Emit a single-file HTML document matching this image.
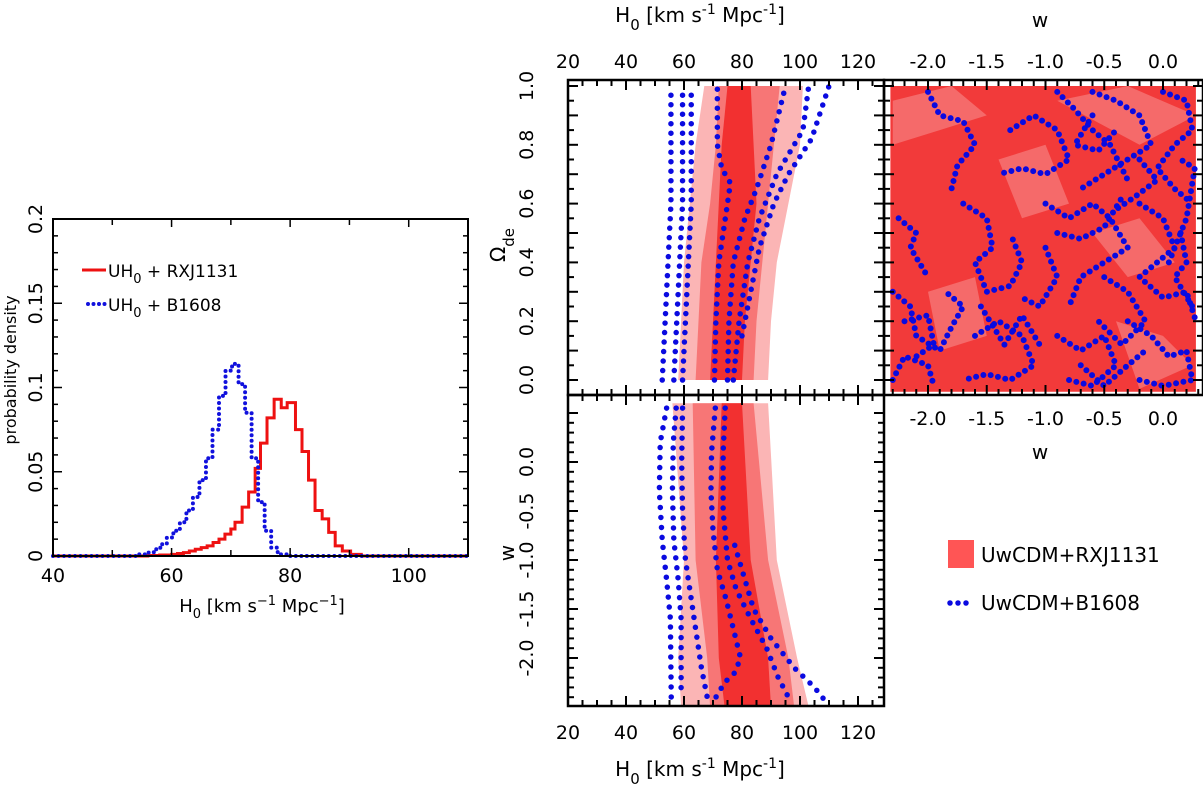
<!DOCTYPE html>
<html><head><meta charset="utf-8"><style>
html,body{margin:0;padding:0;background:#fff;}
svg{display:block;font-family:"DejaVu Sans","Liberation Sans",sans-serif;}
</style></head><body>
<svg id="fig" width="1203" height="792" viewBox="0 0 1203 792"></svg>
<script>
// ---- Histogram data ----
const redEdges=[56,58,60,61,62,63,64,65,66,67,68,69,70,70.7,71.9,73,74.1,75,76.1,77.3,78.5,79.5,80.9,82,83.1,84.2,85.4,86.5,87.6,88.8,90.2,92];
const redVals=[0.0003,0.0006,0.001,0.0015,0.002,0.003,0.004,0.005,0.006,0.008,0.01,0.013,0.016,0.02,0.029,0.038,0.052,0.067,0.082,0.093,0.088,0.091,0.075,0.062,0.045,0.027,0.022,0.014,0.006,0.003,0.001];
const blueEdges=[54.4,55.9,57,58.1,59.2,60.3,61.4,62.5,63.6,64.7,65.8,66.9,68,69.1,70.2,71.3,72.4,73.5,74.6,75.7,76.8,77.9,79.4];
const blueVals=[0.001,0.002,0.004,0.007,0.011,0.015,0.02,0.027,0.035,0.045,0.058,0.075,0.095,0.11,0.114,0.102,0.085,0.058,0.032,0.015,0.005,0.001];
const histXTicks=[40,60,80,100];
const histYTicks=[0,0.05,0.1,0.15,0.2];
const histYLabels=["0","0.05","0.1","0.15","0.2"];
// ---- H0 vs Omega_de bands ----
const omLevels=[0,0.2,0.4,0.6,0.8,1.0];
const omLightL=[58,59,60,62,64,67], omLightR=[89,90,92,96,100,101];
const omMidL=[64,65,66,69,71,72], omMidR=[84,85,87,89,91,93];
const omDarkL=[69,70,71,72,73,75], omDarkR=[80,81,83,85,84,83];
const omContours=[
 [[52.5,0],[53.5,0.2],[54.5,0.4],[55.5,0.6],[55.5,0.8],[55.5,1.0]],
 [[56.5,0],[57.5,0.2],[58.5,0.4],[59.5,0.6],[59.5,0.8],[59.5,1.0]],
 [[59.5,0],[60.5,0.2],[61.5,0.4],[62.5,0.6],[62.5,0.8],[62.5,1.0]],
 [[70.5,0],[71,0.2],[72,0.4],[75,0.6],[76,0.67],[73,0.72],[71.5,0.8],[71.5,1.0]],
 [[75,0],[75.5,0.2],[77,0.4],[81,0.55],[85,0.65],[90,0.8],[95,1.0]],
 [[77,0],[79,0.2],[82,0.4],[86,0.55],[92,0.7],[101,0.85],[103,1.0]],
 [[80,0.15],[83,0.3],[86,0.45],[91,0.6],[96,0.7],[104,0.82],[110,1.0]]
];
// ---- H0 vs w bands ----
const wLevels=[0.6,-1,-2,-2.5];
const wLightL=[56,60,58,59], wLightR=[89,92,99,103];
const wMidL=[63,64,68,69], wMidR=[84,89,96,98];
const wDarkL=[73,71,72,74], wDarkR=[80,83,89,90];
const wContours=[
 [[54,0.55],[51.8,0.2],[51.5,-0.3],[52.5,-0.8],[54,-1.2],[55.3,-1.6],[55.6,-2.4]],
 [[57.3,0.55],[56.3,0.2],[56,-0.3],[56.5,-0.8],[58,-1.2],[59,-1.6],[59,-2.4]],
 [[59.5,0.55],[59.2,0],[59.5,-0.5],[60.5,-1.0],[62,-1.3],[64,-1.7],[66,-2.1],[68,-2.4]],
 [[70.8,0.55],[69.5,0.1],[69.3,-0.3],[70,-0.7],[71.5,-1.1],[74.5,-1.4],[77,-1.7],[79.5,-2.0],[77.5,-2.15],[74,-2.25],[71,-2.4]],
 [[74.2,0.55],[73.5,0.1],[73.5,-0.5],[75,-1.0],[78,-1.3],[83,-1.6],[88.5,-1.9],[92.5,-2.2],[96,-2.4]],
 [[77.5,-0.85],[81,-1.2],[84,-1.5],[90,-1.8],[98,-2.1],[105,-2.3],[109,-2.45]]
];
// ---- w vs Omega_de scatter contours ----
const woSquiggles=[
 [[-2.0,0.98],[-1.9,0.9],[-1.7,0.88],[-1.6,0.8],[-1.75,0.73],[-1.8,0.65]],
 [[-1.3,0.85],[-1.1,0.9],[-0.9,0.85],[-0.8,0.75],[-1.0,0.7],[-1.2,0.72],[-1.4,0.7]],
 [[-0.6,0.98],[-0.4,0.95],[-0.2,0.9],[-0.1,0.8],[-0.3,0.75],[-0.5,0.7],[-0.7,0.65]],
 [[0.0,0.98],[0.2,0.95],[0.25,0.85],[0.1,0.8],[-0.05,0.72],[0.1,0.65],[0.25,0.6]],
 [[-2.25,0.55],[-2.1,0.5],[-2.15,0.45],[-2.0,0.35]],
 [[-1.7,0.6],[-1.5,0.55],[-1.45,0.45],[-1.6,0.4],[-1.5,0.3],[-1.3,0.32],[-1.2,0.4],[-1.3,0.5]],
 [[-1.0,0.6],[-0.8,0.55],[-0.6,0.6],[-0.45,0.55],[-0.3,0.45],[-0.5,0.4],[-0.7,0.35],[-0.8,0.25]],
 [[-0.2,0.6],[0.0,0.55],[0.1,0.45],[-0.05,0.4],[-0.2,0.35],[0.0,0.28],[0.2,0.3],[0.28,0.2]],
 [[-2.3,0.3],[-2.15,0.25],[-2.1,0.15],[-1.9,0.1],[-1.8,0.18],[-1.7,0.25],[-1.85,0.3]],
 [[-1.6,0.15],[-1.4,0.2],[-1.2,0.15],[-1.1,0.05],[-1.3,0.0],[-1.5,0.02],[-1.7,0.0]],
 [[-0.9,0.15],[-0.7,0.1],[-0.5,0.15],[-0.4,0.05],[-0.6,-0.02],[-0.8,0.0]],
 [[-0.3,0.2],[-0.1,0.15],[0.05,0.08],[0.2,0.1],[0.25,0.0],[0.0,-0.02],[-0.2,0.0]],
 [[-2.3,0.0],[-2.2,0.08],[-2.0,0.05],[-1.95,-0.02]],
 [[-1.0,0.45],[-0.9,0.35],[-1.05,0.25],[-1.2,0.28]],
 [[-0.6,0.9],[-0.75,0.8],[-0.55,0.78],[-0.4,0.85]],
 [[0.15,0.5],[0.2,0.4],[0.1,0.35],[0.25,0.25]],
 [[-0.5,0.35],[-0.3,0.3],[-0.15,0.2],[-0.35,0.12],[-0.55,0.2]],
 [[-0.9,0.5],[-0.7,0.48],[-0.5,0.52],[-0.35,0.62]],
 [[-0.2,0.75],[-0.05,0.68],[-0.25,0.62],[-0.4,0.58]],
 [[-2.2,0.2],[-2.0,0.22],[-1.95,0.12],[-2.1,0.08]],
 [[-1.55,0.25],[-1.35,0.12],[-1.2,0.22],[-1.05,0.12]],
 [[-0.9,0.98],[-0.75,0.92],[-0.6,0.85],[-0.45,0.8],[-0.3,0.68]],
 [[0.05,0.4],[0.2,0.55],[0.27,0.72],[0.15,0.75]],
 [[-0.7,0.05],[-0.5,-0.02],[-0.3,0.05],[-0.15,0.1]]
];
const woPatches=[
 [[-2.3,0.95],[-1.8,1.0],[-1.5,0.9],[-1.9,0.85],[-2.3,0.8]],
 [[-1.4,0.75],[-1.0,0.8],[-0.8,0.6],[-1.2,0.55]],
 [[-0.6,0.5],[-0.2,0.55],[0.1,0.4],[-0.3,0.35]],
 [[-2.0,0.3],[-1.6,0.35],[-1.5,0.15],[-1.9,0.1]],
 [[-0.4,0.2],[0.0,0.15],[0.25,0.05],[-0.2,-0.03]],
 [[-0.9,0.95],[-0.3,1.0],[0.28,0.9],[-0.2,0.8]]
];
const h0Ticks=[20,40,60,80,100,120];
const omTicks=[0,0.2,0.4,0.6,0.8,1.0];
const omLabels=["0.0","0.2","0.4","0.6","0.8","1.0"];
const wTicks=[-2,-1.5,-1,-0.5,0];
const wLabels=["-2.0","-1.5","-1.0","-0.5","0.0"];

const NS="http://www.w3.org/2000/svg";
const svg=document.getElementById('fig');
function el(tag,attrs,parent){const e=document.createElementNS(NS,tag);for(const k in attrs)e.setAttribute(k,attrs[k]);(parent||svg).appendChild(e);return e;}
function txt(x,y,s,size,anchor,parent,rot){const t=el('text',{x:x,y:y,'font-size':size,'text-anchor':anchor||'middle',fill:'#000'},parent);if(rot)t.setAttribute('transform','rotate(-90 '+x+' '+y+')');t.textContent=s;return t;}

const hx=v=>53+(v-40)*(468-53)/70, hy=v=>556-v*(556-219)/0.2;
const mx=v=>568+(v-20)*2.9;
const oy=v=>380-v*294;
const wy=v=>462-v*98;
const rx=v=>1163+v*117.5;

// ===== Left histogram =====
const gH=el('g',{});


function stepPath(edges,vals){let d='M'+hx(40)+','+hy(0)+' L'+hx(edges[0])+','+hy(0);for(let i=0;i<vals.length;i++){d+=' L'+hx(edges[i])+','+hy(vals[i])+' L'+hx(edges[i+1])+','+hy(vals[i]);}d+=' L'+hx(edges[edges.length-1])+','+hy(0)+' L'+hx(110)+','+hy(0);return d;}
const rp=el('path',{d:stepPath(redEdges,redVals),fill:'none',stroke:'#ee1111','stroke-width':3},gH);


const bp=el('path',{d:stepPath(blueEdges,blueVals),fill:'none',stroke:'#1111dd','stroke-width':4,'stroke-dasharray':'0 5.5','stroke-linecap':'round'},gH);


el('rect',{x:53,y:219,width:415,height:337,fill:'none',stroke:'#000','stroke-width':2},gH);
for(let v=40;v<=110;v+=10){const L=(v%20===0)?8:6;el('line',{x1:hx(v),y1:556,x2:hx(v),y2:556-L,stroke:'#000','stroke-width':1.5},gH);el('line',{x1:hx(v),y1:219,x2:hx(v),y2:219+L,stroke:'#000','stroke-width':1.5},gH);}
for(let i=0;i<=20;i++){const v=i*0.01,L=(i%5===0)?9:5;el('line',{x1:53,y1:hy(v),x2:53+L,y2:hy(v),stroke:'#000','stroke-width':1.5},gH);el('line',{x1:468,y1:hy(v),x2:468-L,y2:hy(v),stroke:'#000','stroke-width':1.5},gH);}
histXTicks.forEach(v=>txt(hx(v),582,String(v),19,'middle',gH));
histYTicks.forEach((v,i)=>txt(42,hy(v),histYLabels[i],19,'middle',gH,true));
const hyl=txt(16,370,'probability density',16,'middle',gH,true);


const hxl=el('text',{x:262,y:612,'font-size':18,'text-anchor':'middle'},gH);
hxl.innerHTML='H<tspan dy="6" font-size="13">0</tspan><tspan dy="-6"> [km s</tspan><tspan dy="-7" font-size="13">−1</tspan><tspan dy="7"> Mpc</tspan><tspan dy="-7" font-size="13">−1</tspan><tspan dy="7">]</tspan>';


const lg=el('g',{},gH);


el('line',{x1:82,y1:270,x2:106,y2:270,stroke:'#ee1111','stroke-width':3},lg);
const l1=el('text',{x:108,y:277,'font-size':17},lg);l1.innerHTML='UH<tspan dy="6" font-size="13">0</tspan><tspan dy="-6"> + RXJ1131</tspan>';
el('line',{x1:88,y1:304,x2:106,y2:304,stroke:'#1111dd','stroke-width':4,'stroke-dasharray':'0 5.5','stroke-linecap':'round'},lg);
const l2=el('text',{x:108,y:311,'font-size':17},lg);l2.innerHTML='UH<tspan dy="6" font-size="13">0</tspan><tspan dy="-6"> + B1608</tspan>';

function bandPoly(levels,Lx,Rx,xs,ys,parent,color,name){let pts=[];for(let i=0;i<levels.length;i++)pts.push(xs(Lx[i])+','+ys(levels[i]));for(let i=levels.length-1;i>=0;i--)pts.push(xs(Rx[i])+','+ys(levels[i]));const p=el('polygon',{points:pts.join(' '),fill:color},parent);}
function dotted(pts,xs,ys,parent,w,gap){const d='M'+pts.map(p=>xs(p[0])+','+ys(p[1])).join(' L');return el('path',{d:d,fill:'none',stroke:'#0a0ae0','stroke-width':w,'stroke-dasharray':'0 '+gap,'stroke-linecap':'round'},parent);}
function frameTicks(x0,y0,x1,y1,xticks,yticks,parent){el('rect',{x:x0,y:y0,width:x1-x0,height:y1-y0,fill:'none',stroke:'#000','stroke-width':2.5},parent);
 xticks.forEach(t=>{el('line',{x1:t[0],y1:y1,x2:t[0],y2:y1-t[1],stroke:'#000','stroke-width':2},parent);el('line',{x1:t[0],y1:y0,x2:t[0],y2:y0+t[1],stroke:'#000','stroke-width':2},parent);});
 yticks.forEach(t=>{el('line',{x1:x0,y1:t[0],x2:x0+t[1],y2:t[0],stroke:'#000','stroke-width':2},parent);el('line',{x1:x1,y1:t[0],x2:x1-t[1],y2:t[0],stroke:'#000','stroke-width':2},parent);});}
const C1='#fbb5b5',C2='#f77676',C3='#f23030';

// ===== H0-Omega panel =====
const gA=el('g',{});


bandPoly(omLevels,omLightL,omLightR,mx,oy,gA,C1,'omega-band-95');
bandPoly(omLevels,omMidL,omMidR,mx,oy,gA,C2,'omega-band-68');
bandPoly(omLevels,omDarkL,omDarkR,mx,oy,gA,C3,'omega-band-core');
omContours.forEach(c=>{const p=dotted(c,mx,oy,gA,5.5,9.5);});
let hxT=[];for(let v=20;v<=129;v+=5)hxT.push([mx(v),v%20===0?10:6]);
let oyT=[];for(let v=0;v<=1.001;v+=0.05)oyT.push([oy(v),(Math.round(v*100)%10===0)?10:6]);
frameTicks(568,80,884,395,hxT,oyT,gA);
h0Ticks.forEach(v=>txt(mx(v),68,String(v),19,'middle',gA));
omTicks.forEach((v,i)=>txt(533,oy(v),omLabels[i],19,'middle',gA,true));
const omT=el('text',{x:505,y:245,'font-size':20,'text-anchor':'middle',transform:'rotate(-90 505 245)'},gA);
omT.innerHTML='Ω<tspan dy="9" font-size="15">de</tspan>';


const topH=el('text',{x:700,y:22,'font-size':20,'text-anchor':'middle'},gA);
topH.innerHTML='H<tspan dy="8" font-size="15">0</tspan><tspan dy="-8"> [km s</tspan><tspan dy="-8" font-size="14">-1</tspan><tspan dy="8"> Mpc</tspan><tspan dy="-8" font-size="14">-1</tspan><tspan dy="8">]</tspan>';



// ===== H0-w panel =====
const gB=el('g',{});


bandPoly(wLevels,wLightL,wLightR,mx,wy,gB,C1,'w-band-95');
bandPoly(wLevels,wMidL,wMidR,mx,wy,gB,C2,'w-band-68');
bandPoly(wLevels,wDarkL,wDarkR,mx,wy,gB,C3,'w-band-core');
wContours.forEach(c=>{const p=dotted(c,mx,wy,gB,5.5,10);});
let wyT=[];for(let v=0.5;v>=-2.45;v-=0.1)wyT.push([wy(v),(Math.abs(Math.round(v*10))%5===0)?10:6]);
frameTicks(568,395,884,706,hxT,wyT,gB);
h0Ticks.forEach(v=>txt(mx(v),739,String(v),19,'middle',gB));
wTicks.forEach((v,i)=>txt(533,wy(v),wLabels[i],19,'middle',gB,true));
const wT=txt(514,553,'w',20,'middle',gB,true);


const botH=el('text',{x:700,y:776,'font-size':20,'text-anchor':'middle'},gB);
botH.innerHTML='H<tspan dy="8" font-size="15">0</tspan><tspan dy="-8"> [km s</tspan><tspan dy="-8" font-size="14">-1</tspan><tspan dy="8"> Mpc</tspan><tspan dy="-8" font-size="14">-1</tspan><tspan dy="8">]</tspan>';



// ===== w-Omega panel =====
const gC=el('g',{});


el('rect',{x:rx(-2.32),y:oy(1.0),width:rx(0.28)-rx(-2.32),height:oy(-0.04)-oy(1.0),fill:'#f23a3a'},gC);
woPatches.forEach(p=>{const pg=el('polygon',{points:p.map(q=>rx(q[0])+','+oy(q[1])).join(' '),fill:'#f56a6a'},gC);});
woSquiggles.forEach(c=>{const p=dotted(c,rx,oy,gC,6,7.5);});
let rxT=[];for(let v=-2.3;v<=0.31;v+=0.1)rxT.push([rx(v),(Math.abs(Math.round(v*10))%5===0)?10:6]);
frameTicks(884,80,1203,395,rxT,oyT,gC);
wTicks.forEach((v,i)=>txt(rx(v),68,wLabels[i],19,'middle',gC));
wTicks.forEach((v,i)=>txt(rx(v),425,wLabels[i],19,'middle',gC));
txt(1040,27,'w',20,'middle',gC);
txt(1040,459,'w',20,'middle',gC);

// ===== Main legend =====
const gL=el('g',{});


el('rect',{x:948,y:540,width:26,height:28,fill:'#f55'},gL);
txt(981,562,'UwCDM+RXJ1131',20,'start',gL);
el('line',{x1:950,y1:603,x2:972,y2:603,stroke:'#0a0ae0','stroke-width':5.5,'stroke-dasharray':'0 8','stroke-linecap':'round'},gL);
txt(981,610,'UwCDM+B1608',20,'start',gL);
</script>
</body></html>
